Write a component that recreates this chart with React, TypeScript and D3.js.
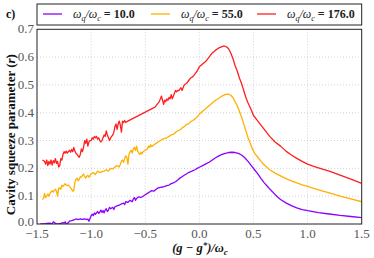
import * as d3 from 'd3';

// x values = (g - g*)/omega_c, y = <r>
const redX = [-1.45,-1.43,-1.42,-1.41,-1.40,-1.39,-1.38,-1.37,-1.36,-1.35,-1.34,-1.33,-1.32,-1.31,-1.30,-1.29,-1.28,-1.27,-1.26,-1.25,-1.24,-1.23,-1.22,-1.21,-1.20,-1.19,-1.18,-1.17,-1.16,-1.15,-1.14,-1.13,-1.12,-1.11,-1.10,-1.09,-1.08,-1.07,-1.06,-1.05,-1.04,-1.03,-1.02,-1.01,-1.00,-0.99,-0.98,-0.97,-0.96,-0.95,-0.94,-0.93,-0.92,-0.91,-0.90,-0.89,-0.88,-0.87,-0.86,-0.85,-0.84,-0.83,-0.82,-0.81,-0.80,-0.79,-0.78,-0.77,-0.76,-0.75,-0.74,-0.73,-0.72,-0.71,-0.70,-0.69,-0.68,-0.67,-0.41,-0.39,-0.37,-0.35,-0.34,-0.33,-0.32,-0.31,-0.30,-0.29,-0.28,-0.27,-0.26,-0.25,-0.24,-0.23,-0.22,-0.21,-0.20,-0.19,-0.18,-0.17,-0.16,-0.15,-0.14,-0.12,-0.10,-0.08,-0.06,-0.04,-0.02,0.0,0.03,0.06,0.09,0.12,0.15,0.18,0.21,0.23,0.25,0.27,0.29,0.31,0.33,0.35,0.37,0.39,0.41,0.43,0.45,0.48,0.5,0.53,0.56,0.6,0.65,0.7,0.75,0.8,0.85,0.9,0.95,1.0,1.05,1.1,1.2,1.3,1.4,1.5];
const redY = [0.23,0.225,0.215,0.23,0.21,0.225,0.215,0.23,0.212,0.228,0.22,0.235,0.218,0.225,0.205,0.21,0.235,0.23,0.25,0.26,0.255,0.262,0.255,0.26,0.265,0.258,0.268,0.26,0.275,0.262,0.255,0.25,0.245,0.24,0.25,0.27,0.26,0.275,0.30,0.29,0.305,0.28,0.295,0.30,0.30,0.31,0.305,0.315,0.31,0.315,0.305,0.31,0.30,0.295,0.30,0.31,0.32,0.315,0.335,0.32,0.31,0.30,0.31,0.315,0.32,0.33,0.35,0.36,0.34,0.36,0.37,0.355,0.33,0.37,0.365,0.372,0.365,0.368,0.42,0.43,0.44,0.46,0.445,0.43,0.445,0.44,0.45,0.445,0.455,0.45,0.465,0.45,0.46,0.47,0.48,0.475,0.48,0.48,0.485,0.49,0.48,0.49,0.5,0.505,0.515,0.525,0.53,0.54,0.55,0.565,0.575,0.585,0.60,0.615,0.625,0.633,0.638,0.64,0.637,0.63,0.615,0.595,0.57,0.55,0.525,0.505,0.48,0.455,0.435,0.41,0.39,0.375,0.36,0.34,0.315,0.295,0.28,0.262,0.248,0.236,0.225,0.215,0.208,0.202,0.19,0.176,0.161,0.146];

const orangeX = [-1.45,-1.44,-1.43,-1.42,-1.41,-1.40,-1.39,-1.38,-1.37,-1.36,-1.35,-1.34,-1.33,-1.32,-1.31,-1.30,-1.29,-1.28,-1.27,-1.26,-1.25,-1.24,-1.23,-1.22,-1.21,-1.20,-1.19,-1.18,-1.17,-1.16,-1.15,-1.14,-1.13,-1.12,-1.11,-1.10,-1.09,-1.08,-1.07,-1.06,-1.05,-1.04,-1.03,-1.02,-1.00,-0.98,-0.96,-0.94,-0.92,-0.90,-0.88,-0.86,-0.84,-0.82,-0.80,-0.78,-0.76,-0.74,-0.72,-0.71,-0.70,-0.69,-0.68,-0.67,-0.66,-0.65,-0.64,-0.63,-0.62,-0.61,-0.60,-0.59,-0.58,-0.57,-0.56,-0.55,-0.54,-0.53,-0.52,-0.50,-0.48,-0.47,-0.46,-0.45,-0.44,-0.42,-0.40,-0.38,-0.36,-0.34,-0.32,-0.30,-0.28,-0.26,-0.24,-0.22,-0.20,-0.18,-0.16,-0.14,-0.12,-0.10,-0.08,-0.06,-0.04,-0.02,0.0,0.03,0.06,0.09,0.12,0.15,0.18,0.21,0.24,0.27,0.29,0.31,0.33,0.35,0.37,0.39,0.41,0.43,0.45,0.47,0.49,0.51,0.54,0.57,0.6,0.65,0.7,0.75,0.8,0.85,0.9,0.95,1.0,1.1,1.2,1.3,1.4,1.5];
const orangeY = [0.088,0.092,0.11,0.095,0.1,0.108,0.1,0.11,0.115,0.12,0.115,0.12,0.125,0.118,0.1,0.128,0.13,0.125,0.14,0.135,0.14,0.145,0.14,0.138,0.14,0.135,0.13,0.125,0.118,0.12,0.15,0.16,0.165,0.155,0.16,0.17,0.168,0.175,0.18,0.17,0.165,0.172,0.175,0.168,0.18,0.185,0.178,0.19,0.185,0.188,0.19,0.195,0.19,0.2,0.198,0.205,0.21,0.205,0.225,0.23,0.222,0.235,0.245,0.24,0.215,0.25,0.26,0.265,0.255,0.27,0.275,0.265,0.28,0.262,0.255,0.25,0.258,0.252,0.26,0.265,0.27,0.28,0.275,0.285,0.278,0.285,0.29,0.295,0.3,0.305,0.308,0.31,0.315,0.32,0.322,0.33,0.335,0.338,0.345,0.35,0.358,0.36,0.368,0.372,0.378,0.385,0.395,0.405,0.415,0.425,0.435,0.445,0.452,0.46,0.466,0.467,0.463,0.455,0.44,0.425,0.405,0.385,0.36,0.335,0.31,0.29,0.27,0.255,0.24,0.225,0.212,0.195,0.183,0.173,0.163,0.155,0.148,0.141,0.135,0.123,0.112,0.1,0.09,0.08];

const purpleX = [-1.47,-1.44,-1.41,-1.38,-1.36,-1.35,-1.34,-1.32,-1.30,-1.28,-1.26,-1.25,-1.24,-1.23,-1.21,-1.20,-1.18,-1.16,-1.14,-1.12,-1.10,-1.08,-1.06,-1.04,-1.03,-1.02,-1.01,-1.00,-0.99,-0.98,-0.97,-0.96,-0.95,-0.94,-0.93,-0.92,-0.91,-0.90,-0.89,-0.88,-0.87,-0.86,-0.85,-0.84,-0.83,-0.82,-0.80,-0.79,-0.78,-0.76,-0.74,-0.72,-0.70,-0.69,-0.68,-0.66,-0.64,-0.62,-0.61,-0.60,-0.59,-0.58,-0.56,-0.54,-0.52,-0.50,-0.48,-0.46,-0.44,-0.42,-0.40,-0.38,-0.36,-0.34,-0.32,-0.30,-0.28,-0.26,-0.24,-0.22,-0.20,-0.18,-0.16,-0.14,-0.12,-0.10,-0.08,-0.06,-0.04,-0.02,0.0,0.03,0.06,0.09,0.12,0.15,0.18,0.21,0.24,0.27,0.30,0.33,0.36,0.39,0.42,0.45,0.48,0.51,0.54,0.57,0.60,0.63,0.66,0.69,0.72,0.75,0.8,0.85,0.9,0.95,1.0,1.1,1.2,1.3,1.4,1.5];
const purpleY = [0.0,0.0,0.002,0.003,0.0,0.008,0.005,0.0,0.0,0.002,0.005,0.003,0.008,0.0,0.005,0.01,0.012,0.015,0.018,0.016,0.018,0.017,0.018,0.016,0.018,0.01,0.02,0.03,0.035,0.03,0.04,0.035,0.04,0.045,0.038,0.042,0.05,0.042,0.048,0.04,0.05,0.055,0.045,0.05,0.06,0.055,0.06,0.052,0.062,0.065,0.068,0.072,0.075,0.07,0.08,0.078,0.085,0.08,0.09,0.095,0.085,0.092,0.098,0.095,0.1,0.105,0.11,0.115,0.12,0.118,0.125,0.13,0.132,0.133,0.135,0.138,0.14,0.145,0.148,0.152,0.158,0.165,0.17,0.175,0.18,0.185,0.188,0.192,0.195,0.2,0.204,0.21,0.216,0.222,0.23,0.238,0.245,0.25,0.254,0.257,0.258,0.257,0.254,0.248,0.238,0.225,0.21,0.195,0.18,0.163,0.148,0.135,0.122,0.11,0.098,0.088,0.076,0.066,0.058,0.052,0.048,0.041,0.036,0.031,0.027,0.023];

const seriesNames = ['10.0', '55.0', '176.0'];
const seriesColors = ['#8b00ff', '#ffb000', '#ff1f1f'];
const xTicks = [-1.5, -1.0, -0.5, 0.0, 0.5, 1.0, 1.5];
const yTicks = [0.0, 0.1, 0.2, 0.3, 0.4, 0.5, 0.6, 0.7];

const W = 374;
const H = 258;
const m = { left: 37, right: 12.3, top: 29.3, bottom: 34 };
const serif = "'Liberation Serif', 'DejaVu Serif', serif";

const fmt = (v: number) => v.toFixed(1).replace('-', '\u2212');

export default function App() {
  const x = d3.scaleLinear().domain([-1.5, 1.5]).range([m.left, W - m.right]);
  const y = d3.scaleLinear().domain([0, 0.7]).range([H - m.bottom, m.top]);
  const line = d3.line<[number, number]>().x(d => x(d[0])).y(d => y(d[1]));

  const series = [
    { xs: purpleX, ys: purpleY },
    { xs: orangeX, ys: orangeY },
    { xs: redX, ys: redY },
  ].map((s, i) => ({
    name: seriesNames[i],
    color: seriesColors[i],
    pts: s.xs.map((v, j) => [v, s.ys[j]] as [number, number]),
  }));

  const legendX = [43, 151, 257];

  return (
    <svg width={W} height={H} style={{ position: 'absolute', left: 0, top: 0, background: '#fff', fontFamily: serif }}>
      <rect width={W} height={H} fill="#fff" />
      {/* grid */}
      {xTicks.slice(1, -1).map(t => (
        <line key={'gx' + t} x1={x(t)} x2={x(t)} y1={y(0.7)} y2={y(0)} stroke="#c8c8c8" strokeWidth={0.8} strokeDasharray="1,2" />
      ))}
      {yTicks.slice(1, -1).map(t => (
        <line key={'gy' + t} x1={x(-1.5)} x2={x(1.5)} y1={y(t)} y2={y(t)} stroke="#c8c8c8" strokeWidth={0.8} strokeDasharray="1,2" />
      ))}
      <defs>
        <clipPath id="clip">
          <rect x={x(-1.5)} y={y(0.7)} width={x(1.5) - x(-1.5)} height={y(0) - y(0.7)} />
        </clipPath>
      </defs>
      {/* lines */}
      <g clipPath="url(#clip)">
        {series.map(s => (
          <path key={s.name} d={line(s.pts) || ''} fill="none" stroke={s.color} strokeWidth={1.3} strokeLinejoin="round" />
        ))}
      </g>
      <rect x={x(-1.5)} y={y(0.7)} width={x(1.5) - x(-1.5)} height={y(0) - y(0.7)} fill="none" stroke="#222" strokeWidth={1} />
      {/* tick labels */}
      {xTicks.map(t => (
        <text key={'tx' + t} x={x(t)} y={y(0) + 14} textAnchor="middle" fontSize={13} fill="#555">{fmt(t)}</text>
      ))}
      {yTicks.map(t => (
        <text key={'ty' + t} x={x(-1.5) - 3} y={y(t) + (t === 0 ? 2 : 4)} textAnchor="end" fontSize={13} fill="#555">{fmt(t)}</text>
      ))}
      {/* axis labels */}
      <text x={200} y={251.5} textAnchor="middle" fontSize={12.5} fontWeight="bold" fontStyle="italic" fill="#111">
        (g {'\u2212'} g<tspan dy={-4} fontSize={9}>*</tspan><tspan dy={4}>)/ω</tspan><tspan dy={3} fontSize={9}>c</tspan>
      </text>
      <text transform={`translate(14.5,${(y(0) + y(0.7)) / 2 + 8}) rotate(-90)`} textAnchor="middle" fontSize={13} fontWeight="bold" fill="#111">
        Cavity squeeze parameter (<tspan fontStyle="italic">r</tspan>)
      </text>
      {/* panel label */}
      <text x={6} y={18} fontSize={12} fontWeight="bold" fill="#111">c)</text>
      {/* legend */}
      <rect x={x(-1.5)} y={4} width={x(1.5) - x(-1.5)} height={21} fill="#fff" stroke="#222" strokeWidth={1} />
      {series.map((s, i) => (
        <g key={'lg' + s.name}>
          <line x1={legendX[i]} x2={legendX[i] + 19} y1={14} y2={14} stroke={s.color} strokeWidth={1.3} />
          <text x={legendX[i] + 30} y={18} fontSize={12} fill="#222">
            <tspan fontStyle="italic">ω</tspan><tspan fontStyle="italic" fontSize={8} dy={3}>q</tspan>
            <tspan dy={-3} fontStyle="italic">/ω</tspan><tspan fontStyle="italic" fontSize={8} dy={3}>c</tspan>
            <tspan dy={-3} fontWeight="bold"> = {s.name}</tspan>
          </text>
        </g>
      ))}
    </svg>
  );
}
